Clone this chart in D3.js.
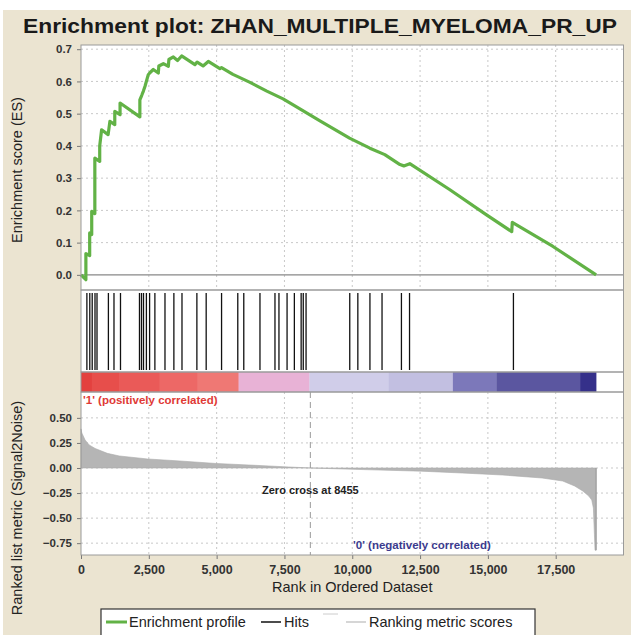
<!DOCTYPE html>
<html>
<head>
<meta charset="utf-8">
<script src="https://cdn.jsdelivr.net/npm/d3@7"></script>
<style>
body { margin: 0; background: #fff; }
text { font-family: "Liberation Sans", Arial, sans-serif; }
</style>
</head>
<body>
<div id="chart"></div>
<script>
// chart values
var title = "Enrichment plot: ZHAN_MULTIPLE_MYELOMA_PR_UP";
var xTicks = [0, 2500, 5000, 7500, 10000, 12500, 15000, 17500];
var esTicks = [0, 0.1, 0.2, 0.3, 0.4, 0.5, 0.6, 0.7];
var metricTicks = [0.5, 0.25, 0, -0.25, -0.5, -0.75];

// running enrichment score (rank, ES)
var esRank  = [0, 180, 180, 320, 320, 395, 395, 510, 510, 690, 690, 760, 1000, 1065, 1245, 1245, 1440, 1440,
               2170, 2170, 2240, 2300, 2360, 2480, 2540, 2665, 2850, 2870, 3035, 3220, 3240, 3404, 3560, 3710,
               4200, 4280, 4500, 4693, 5120, 5180, 5600, 5780, 6230, 6850, 7450, 8070, 8810, 9900, 10650,
               11200, 11760, 11900, 12120, 13600, 14950, 15880, 15900, 17400, 18990];
var esScore = [0, -0.015, 0.066, 0.06, 0.13, 0.125, 0.197, 0.19, 0.362, 0.352, 0.4, 0.45, 0.435, 0.476, 0.466, 0.507, 0.497, 0.533,
               0.49, 0.543, 0.557, 0.57, 0.585, 0.621, 0.627, 0.637, 0.626, 0.648, 0.655, 0.647, 0.668, 0.676, 0.665, 0.679,
               0.652, 0.66, 0.648, 0.662, 0.64, 0.643, 0.622, 0.615, 0.597, 0.57, 0.546, 0.515, 0.478, 0.424, 0.393,
               0.373, 0.342, 0.338, 0.345, 0.264, 0.186, 0.134, 0.163, 0.088, 0];

// gene set members (hits) positions in the ranked list
var hitRanks = [217, 324, 413, 516, 590, 1010, 1216, 1456, 2156, 2230, 2304, 2411, 2529, 2724, 3096, 3424,
                3723, 4272, 4615, 5182, 5780, 6001, 6598, 7151, 7298, 7597, 7866, 8116, 8194, 8297, 9908,
                10206, 10652, 11098, 11813, 12112, 15942];

// ranked list metric (Signal2Noise)
var metricRank  = [0, 30, 150, 300, 520, 970, 1410, 2450, 3640, 4980, 6170, 7660, 8455, 10400, 12560, 14050,
                   15540, 17000, 17760, 18200, 18500, 18720, 18830, 18890, 18950, 18990];
var metricScore = [0.39, 0.35, 0.28, 0.23, 0.195, 0.146, 0.12, 0.09, 0.07, 0.045, 0.03, 0.01, 0, -0.016, -0.032, -0.05,
                   -0.07, -0.1, -0.13, -0.18, -0.23, -0.28, -0.32, -0.4, -0.82, -0.82];

// heat bar under the hits
var barEdges  = [0, 400, 1400, 2900, 4300, 5810, 8420, 11330, 13710, 15320, 18400, 18990];
var barColors = ["#e3413f", "#e74e4b", "#ea5a58", "#ed6866", "#ef7874", "#e8b2d6", "#d0cde9", "#c2bfe1",
                 "#7c78ba", "#5b56a0", "#35308a"];

var zeroCross = 8455;
var listSize = 18990;

var W = 634, H = 635;
var left = 81, right = 623.5;

var svg = d3.select("#chart").append("svg")
    .attr("width", W)
    .attr("height", H);

// beige panel
svg.append("rect")
    .attr("x", 3).attr("y", 10)
    .attr("width", 628).attr("height", 625)
    .attr("fill", "#ebe4d1");

svg.append("text")
    .attr("x", 320).attr("y", 33)
    .attr("text-anchor", "middle")
    .attr("font-size", 21).attr("font-weight", "bold")
    .attr("fill", "#1a1a1a")
    .attr("textLength", 594)
    .attr("lengthAdjust", "spacingAndGlyphs")
    .text(title);

var x = d3.scaleLinear().domain([0, 20000]).range([left, right]);
var yES = d3.scaleLinear().domain([-0.047, 0.713]).range([290, 45]);
var yM = d3.scaleLinear().domain([-0.868, 0.758]).range([555, 392]);

function grid(g, xs, ys, yScale, y0, y1) {
  g.selectAll(".vg").data(xs.filter(function(d){ return d > 0; })).enter().append("line")
      .attr("x1", function(d){ return x(d); }).attr("x2", function(d){ return x(d); })
      .attr("y1", y0).attr("y2", y1)
      .attr("stroke", "#c8c8c8").attr("stroke-dasharray", "2,3");
  g.selectAll(".hg").data(ys).enter().append("line")
      .attr("x1", left).attr("x2", right)
      .attr("y1", function(d){ return yScale(d); }).attr("y2", function(d){ return yScale(d); })
      .attr("stroke", "#c8c8c8").attr("stroke-dasharray", "2,3");
}

function styleAxis(g) {
  g.select(".domain").remove();
  g.selectAll(".tick line").attr("stroke", "#777");
  g.selectAll(".tick text")
      .attr("font-family", "Liberation Sans, Arial, sans-serif")
      .attr("font-size", 11.5).attr("font-weight", "bold").attr("fill", "#333");
}

// ---- ES panel
var es = svg.append("g");
es.append("rect").attr("x", left).attr("y", 45).attr("width", right - left).attr("height", 245).attr("fill", "#fff");
grid(es, xTicks, esTicks.filter(function(d){ return d > 0; }), yES, 45, 290);
es.append("line")
    .attr("x1", left).attr("x2", right)
    .attr("y1", yES(0)).attr("y2", yES(0))
    .attr("stroke", "#888").attr("stroke-width", 1.2);

var esLine = d3.line()
    .x(function(d, i) { return x(esRank[i]); })
    .y(function(d, i) { return yES(esScore[i]); });
es.append("path")
    .datum(esScore)
    .attr("d", esLine)
    .attr("fill", "none")
    .attr("stroke", "#62b246")
    .attr("stroke-width", 3.2)
    .attr("stroke-linejoin", "round");

es.append("g")
    .attr("transform", "translate(" + left + ",0)")
    .call(d3.axisLeft(yES).tickValues(esTicks).tickFormat(d3.format(".1f")).tickSize(4).tickPadding(5))
    .call(styleAxis);

// ---- hits panel
var hits = svg.append("g");
hits.append("rect").attr("x", left).attr("y", 290).attr("width", right - left).attr("height", 82).attr("fill", "#fff");
hits.selectAll(".hit").data(hitRanks).enter().append("line")
    .attr("x1", function(d){ return x(d); }).attr("x2", function(d){ return x(d); })
    .attr("y1", 293).attr("y2", 370)
    .attr("stroke", "#111").attr("stroke-width", 1.3);

// ---- heat bar
var bar = svg.append("g");
bar.append("rect").attr("x", left).attr("y", 372).attr("width", right - left).attr("height", 20).attr("fill", "#fff");
bar.selectAll(".seg").data(barColors).enter().append("rect")
    .attr("x", function(d, i){ return x(barEdges[i]); })
    .attr("width", function(d, i){ return x(barEdges[i + 1]) - x(barEdges[i]) + 0.3; })
    .attr("y", 372).attr("height", 20)
    .attr("fill", function(d){ return d; });

// ---- ranked metric panel
var rm = svg.append("g");
rm.append("rect").attr("x", left).attr("y", 392).attr("width", right - left).attr("height", 163).attr("fill", "#fff");
grid(rm, xTicks, metricTicks, yM, 392, 555);

var metricArea = d3.area()
    .x(function(d, i) { return x(metricRank[i]); })
    .y0(yM(0))
    .y1(function(d, i) { return yM(metricScore[i]); });
rm.append("path")
    .datum(metricScore)
    .attr("d", metricArea)
    .attr("fill", "#b5b5b5")
    .attr("stroke", "#aaa").attr("stroke-width", 0.6);
rm.append("line")
    .attr("x1", x(listSize)).attr("x2", x(listSize))
    .attr("y1", yM(0)).attr("y2", yM(-0.82))
    .attr("stroke", "#999").attr("stroke-width", 1);

rm.append("line")
    .attr("x1", x(zeroCross)).attr("x2", x(zeroCross))
    .attr("y1", 392).attr("y2", 555)
    .attr("stroke", "#999").attr("stroke-dasharray", "6,4");

rm.append("text")
    .attr("x", left + 2).attr("y", 404)
    .attr("font-size", 11.5).attr("font-weight", "bold").attr("fill", "#e03a36")
    .text("'1' (positively correlated)");
rm.append("text")
    .attr("x", x(zeroCross)).attr("y", 494)
    .attr("text-anchor", "middle")
    .attr("font-size", 11).attr("font-weight", "bold").attr("fill", "#222")
    .text("Zero cross at " + zeroCross);
rm.append("text")
    .attr("x", 353).attr("y", 549)
    .attr("font-size", 11.5).attr("font-weight", "bold").attr("fill", "#3b3b8e")
    .text("'0' (negatively correlated)");

rm.append("g")
    .attr("transform", "translate(" + left + ",0)")
    .call(d3.axisLeft(yM).tickValues(metricTicks).tickFormat(d3.format(".2f")).tickSize(4).tickPadding(5))
    .call(styleAxis);

rm.append("g")
    .attr("transform", "translate(0,555)")
    .call(d3.axisBottom(x).tickValues(xTicks).tickFormat(d3.format(",")).tickSize(4).tickPadding(6))
    .call(styleAxis)
    .selectAll(".tick text").attr("font-size", 12.5);

// frames
[[45, 290], [290, 372], [372, 392], [392, 555]].forEach(function(p) {
  svg.append("rect")
      .attr("x", left).attr("y", p[0])
      .attr("width", right - left).attr("height", p[1] - p[0])
      .attr("fill", "none").attr("stroke", "#9a9a9a").attr("stroke-width", 1);
});

// axis titles
svg.append("text")
    .attr("transform", "translate(22,170) rotate(-90)")
    .attr("text-anchor", "middle")
    .attr("font-size", 14.5).attr("fill", "#222")
    .text("Enrichment score (ES)");
svg.append("text")
    .attr("transform", "translate(22,508) rotate(-90)")
    .attr("text-anchor", "middle")
    .attr("font-size", 14.5).attr("fill", "#222")
    .text("Ranked list metric (Signal2Noise)");
svg.append("text")
    .attr("x", (left + right) / 2).attr("y", 592)
    .attr("text-anchor", "middle")
    .attr("font-size", 14.5).attr("fill", "#222")
    .text("Rank in Ordered Dataset");

// legend
var lg = svg.append("g");
lg.append("rect")
    .attr("x", 101).attr("y", 609).attr("width", 434).attr("height", 40)
    .attr("fill", "#fff").attr("stroke", "#333").attr("stroke-width", 1.2);
lg.append("line").attr("x1", 106).attr("x2", 127).attr("y1", 622).attr("y2", 622)
    .attr("stroke", "#62b246").attr("stroke-width", 3);
lg.append("text").attr("x", 129).attr("y", 627).attr("font-size", 14.5).attr("fill", "#222").text("Enrichment profile");
lg.append("line").attr("x1", 261).attr("x2", 281).attr("y1", 622).attr("y2", 622)
    .attr("stroke", "#111").attr("stroke-width", 1.5);
lg.append("text").attr("x", 284).attr("y", 627).attr("font-size", 14.5).attr("fill", "#222").text("Hits");
lg.append("line").attr("x1", 323).attr("x2", 338).attr("y1", 614).attr("y2", 614)
    .attr("stroke", "#ccc").attr("stroke-width", 1);
lg.append("line").attr("x1", 346).attr("x2", 366).attr("y1", 622).attr("y2", 622)
    .attr("stroke", "#bbb").attr("stroke-width", 1.2);
lg.append("text").attr("x", 369).attr("y", 627).attr("font-size", 14.5).attr("fill", "#222").text("Ranking metric scores");
</script>
</body>
</html>
